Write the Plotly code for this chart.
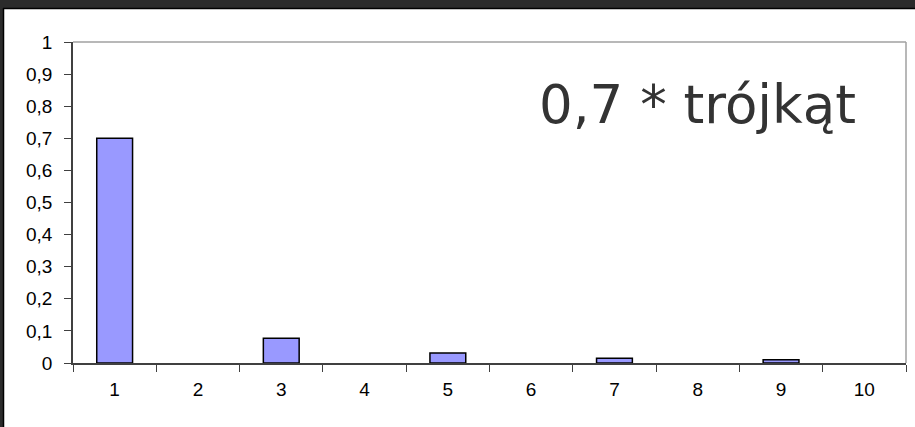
import plotly.graph_objects as go

# harmonic numbers and amplitudes of the scaled triangle wave
harmonics = ["1", "2", "3", "4", "5", "6", "7", "8", "9", "10"]
amplitudes = [0.7, 0.0, 0.077, 0.0, 0.031, 0.0, 0.015, 0.0, 0.01, 0.0]

y_tick_values = [0, 0.1, 0.2, 0.3, 0.4, 0.5, 0.6, 0.7, 0.8, 0.9, 1.0]
y_tick_labels = ["0", "0,1", "0,2", "0,3", "0,4", "0,5", "0,6", "0,7", "0,8", "0,9", "1"]

title_text = "0,7 * trójkąt"

W, H = 915, 427
L, R, T, B = 73, 9, 42, 64
pw, ph = W - L - R, H - T - B


def px_x(px):
    return (px - L) / pw


def px_y(py):
    return (H - B - py) / ph


# empty harmonics get no outline, so nothing is drawn for them
outline_widths = [1.5 if v > 0 else 0 for v in amplitudes]

fig = go.Figure(
    go.Bar(
        x=harmonics,
        y=amplitudes,
        marker=dict(color="#9999ff", line=dict(color="#000000", width=outline_widths)),
    )
)

frame = "#2b2b2b"
shapes = [
    # dark frame along top and left
    dict(type="rect", xref="paper", yref="paper", x0=px_x(0), x1=px_x(W), y0=px_y(8), y1=px_y(0),
         fillcolor=frame, line=dict(width=0), layer="above"),
    dict(type="rect", xref="paper", yref="paper", x0=px_x(0), x1=px_x(3), y0=px_y(H), y1=px_y(0),
         fillcolor=frame, line=dict(width=0), layer="above"),
    dict(type="line", xref="paper", yref="paper", x0=px_x(3), x1=px_x(W), y0=px_y(8.5), y1=px_y(8.5),
         line=dict(color="#000000", width=1.5)),
    dict(type="line", xref="paper", yref="paper", x0=px_x(3.5), x1=px_x(3.5), y0=px_y(H), y1=px_y(8),
         line=dict(color="#000000", width=1.5)),
    # light border on top and right of the plot area
    dict(type="line", xref="paper", yref="paper", x0=0, x1=1, y0=1, y1=1,
         line=dict(color="#a0a0a0", width=1.5)),
    dict(type="line", xref="paper", yref="paper", x0=1, x1=1, y0=0, y1=1,
         line=dict(color="#a0a0a0", width=1.5)),
]

tick_font = dict(family="Liberation Sans", size=19, color="#000000")

fig.update_layout(
    width=W,
    height=H,
    margin=dict(l=L, r=R, t=T, b=B, pad=0),
    paper_bgcolor="#ffffff",
    plot_bgcolor="#ffffff",
    bargap=0.57,
    showlegend=False,
    font=tick_font,
    shapes=shapes,
    annotations=[
        dict(text=title_text, xref="paper", yref="paper", x=px_x(697), y=px_y(104),
             xanchor="center", yanchor="middle", showarrow=False,
             font=dict(family="DejaVu Sans", size=53, color="#333333")),
    ],
    xaxis=dict(
        type="category",
        tickson="boundaries",
        ticks="outside",
        ticklen=7,
        tickcolor="#404040",
        tickfont=tick_font,
        showline=True,
        linecolor="#404040",
        linewidth=1.5,
        showgrid=False,
        zeroline=False,
        ticklabelstandoff=8,
    ),
    yaxis=dict(
        range=[0, 1],
        tickvals=y_tick_values,
        ticktext=y_tick_labels,
        ticks="outside",
        ticklen=7,
        tickcolor="#404040",
        tickfont=tick_font,
        showline=True,
        linecolor="#404040",
        linewidth=1.5,
        showgrid=False,
        zeroline=False,
        ticklabelstandoff=8,
    ),
)

fig.write_html("out.html")
